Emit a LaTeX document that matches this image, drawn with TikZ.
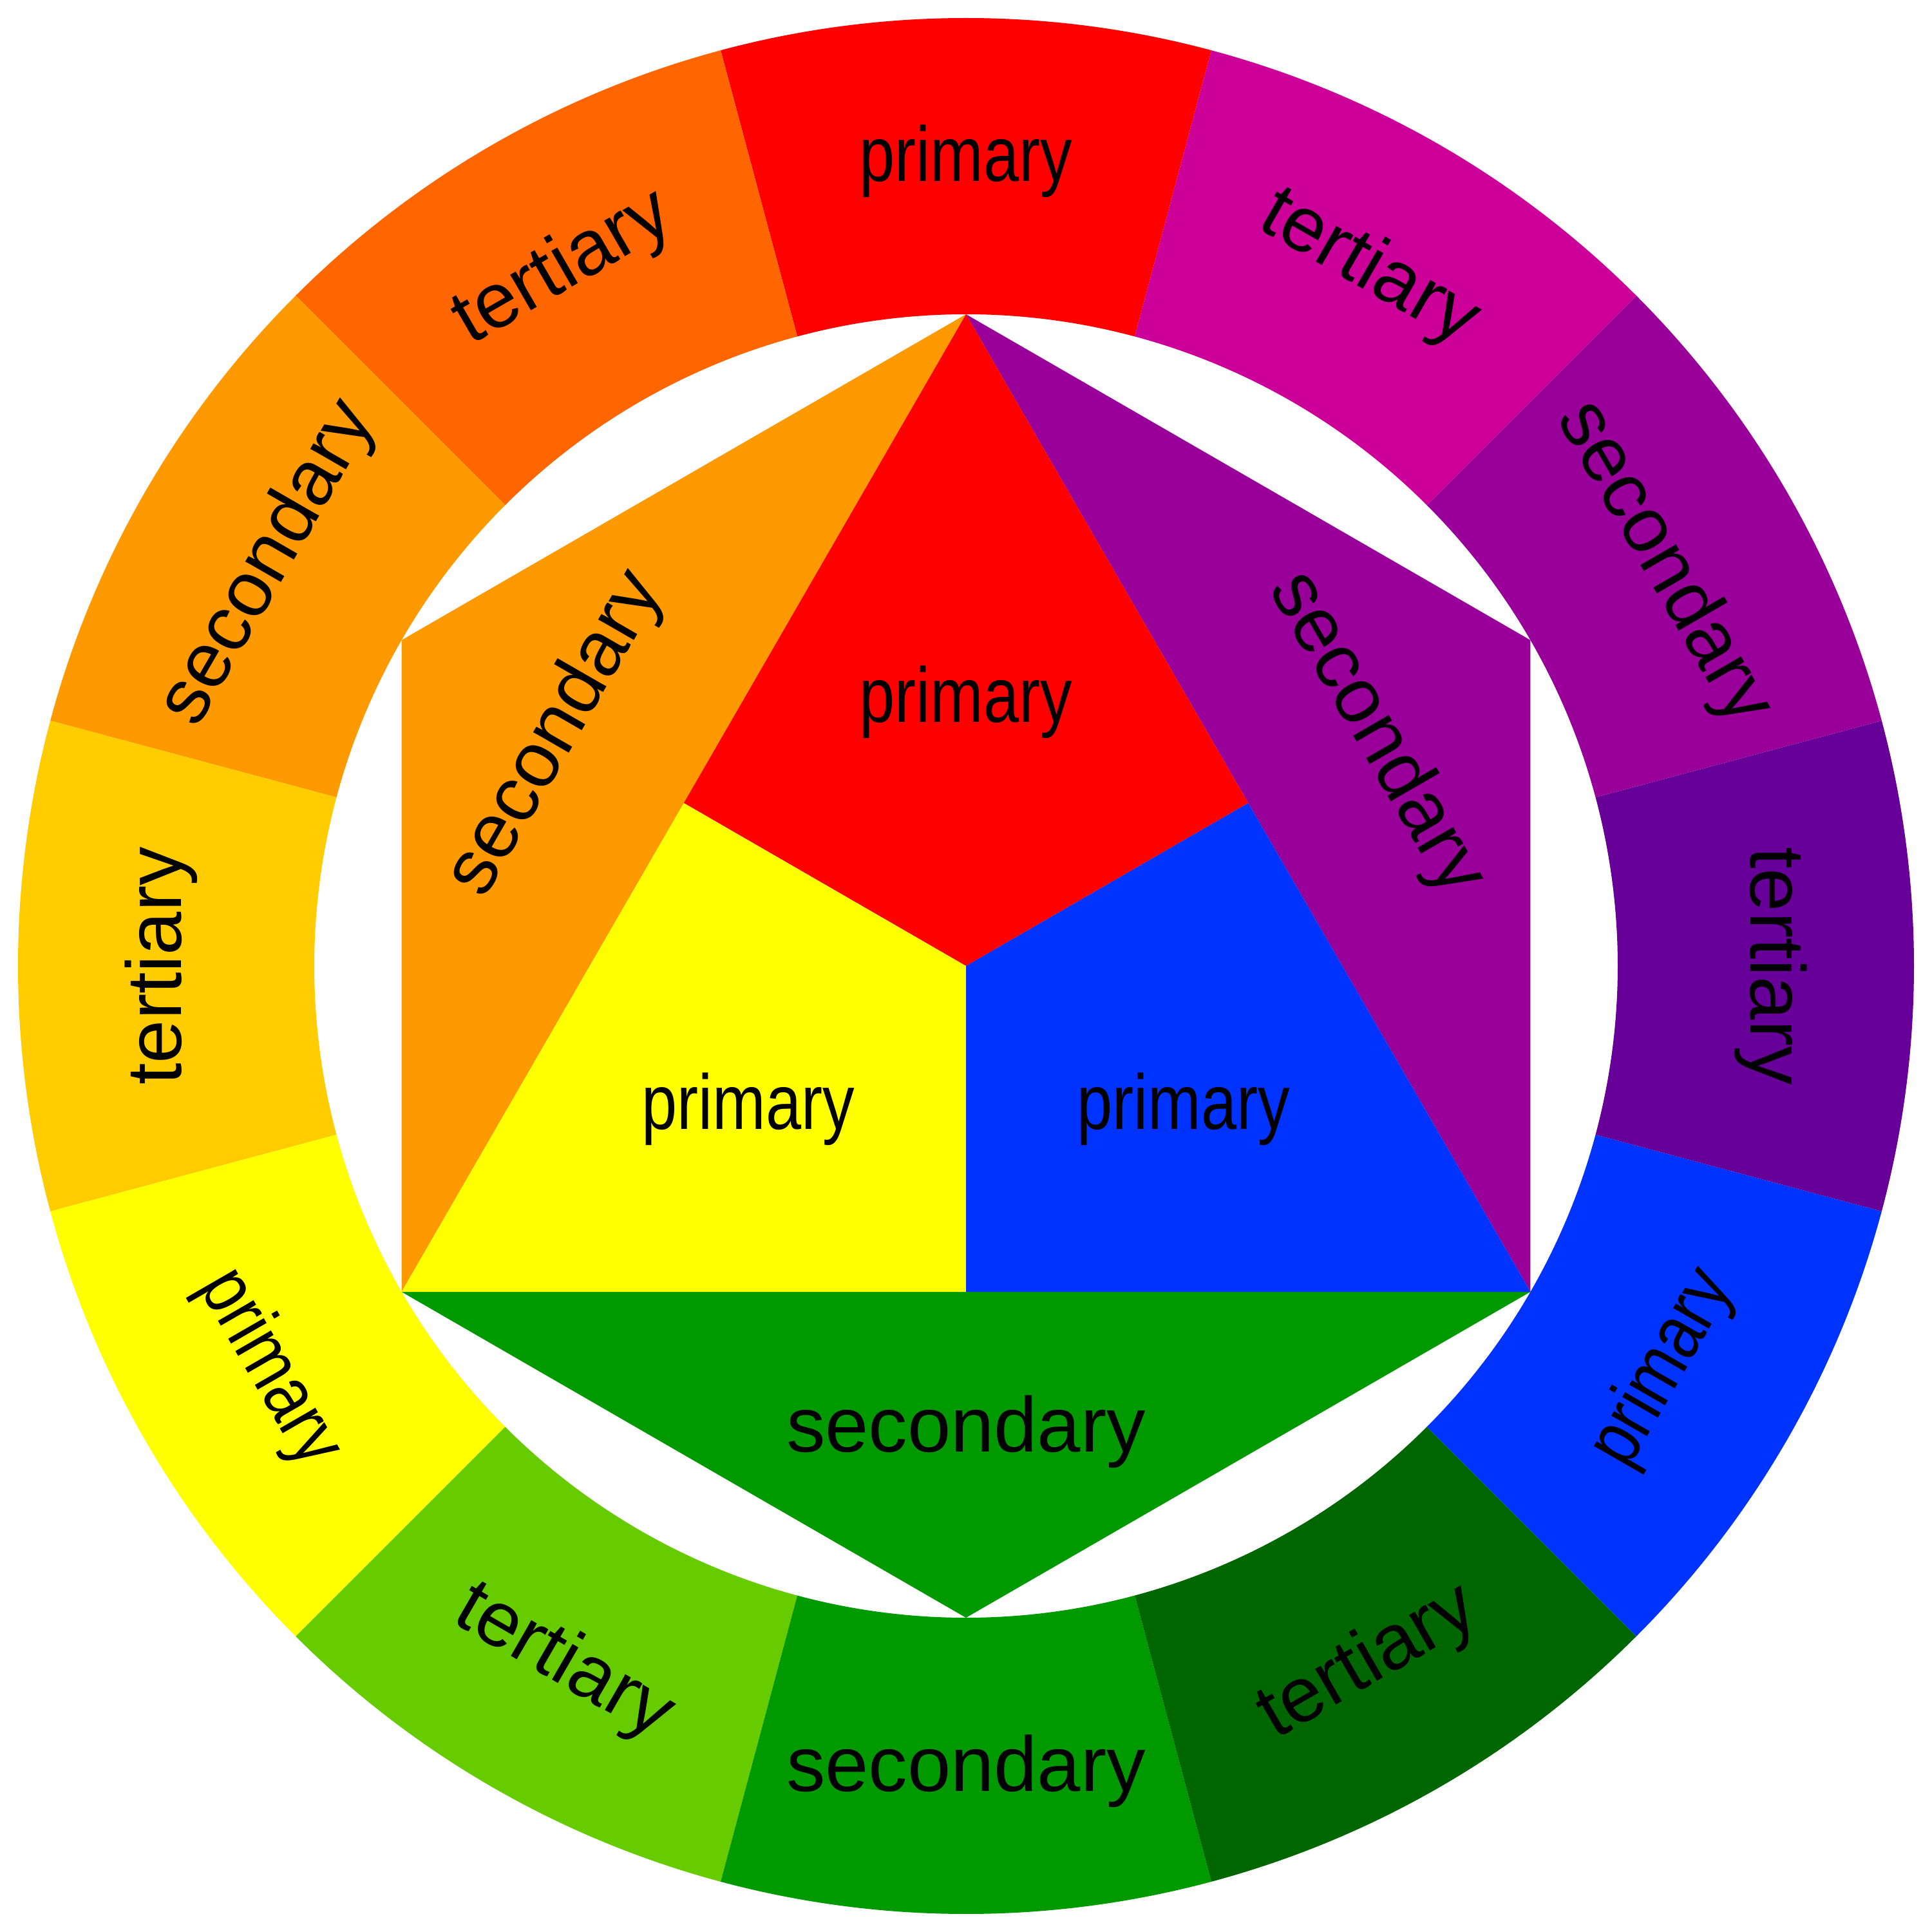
\documentclass[tikz,border=0pt]{standalone}
\usepackage{fontspec}
\setmainfont{Liberation Sans}
\newfontfamily\nrwA[FakeStretch=0.82]{Liberation Sans}
\usetikzlibrary{calc}
\definecolor{cRed}{HTML}{FF0000}
\definecolor{cRedOrange}{HTML}{FF6600}
\definecolor{cOrange}{HTML}{FF9900}
\definecolor{cYellowOrange}{HTML}{FFCC00}
\definecolor{cYellow}{HTML}{FFFF00}
\definecolor{cYellowGreen}{HTML}{66CC00}
\definecolor{cGreen}{HTML}{009900}
\definecolor{cDarkGreen}{HTML}{006600}
\definecolor{cBlue}{HTML}{0033FF}
\definecolor{cViolet}{HTML}{660099}
\definecolor{cPurple}{HTML}{990099}
\definecolor{cMagenta}{HTML}{CC0099}
\tikzset{
  lbl/.style={inner sep=0pt, text=black, font=\fontsize{34.4}{40}\selectfont}
}
\begin{document}
\begin{tikzpicture}
\useasboundingbox (-15,-15) rectangle (15,15);
\def\Ro{14.72}
\def\Ri{10.12}
\def\Rm{12.5}
% outer ring
\foreach \c/\col/\txt/\rot/\fnt [count=\k] in {
  90/cRed/primary/0/\nrwA,
  120/cRedOrange/tertiary/30/\relax,
  150/cOrange/secondary/60/\relax,
  180/cYellowOrange/tertiary/90/\relax,
  210/cYellow/primary/-60/\nrwA,
  240/cYellowGreen/tertiary/-30/\relax,
  270/cGreen/secondary/0/\relax,
  300/cDarkGreen/tertiary/30/\relax,
  330/cBlue/primary/60/\nrwA,
  0/cViolet/tertiary/-90/\relax,
  30/cPurple/secondary/-60/\relax,
  60/cMagenta/tertiary/-30/\relax}{
  \fill[\col] (\c-15:\Ro) arc[start angle=\c-15, end angle=\c+15, radius=\Ro]
     -- (\c+15:\Ri) arc[start angle=\c+15, end angle=\c-15, radius=\Ri] -- cycle;
  \node[lbl, rotate=\rot] (ring\k) at (\c:\Rm) {\fnt\txt};
}
% inner hexagon and triangle
\coordinate (T) at (90:\Ri);
\coordinate (UL) at (150:\Ri);
\coordinate (LL) at (210:\Ri);
\coordinate (B) at (270:\Ri);
\coordinate (LR) at (330:\Ri);
\coordinate (UR) at (30:\Ri);
\coordinate (O) at (0,0);
\coordinate (ML) at ($(T)!0.5!(LL)$);
\coordinate (MR) at ($(T)!0.5!(LR)$);
\coordinate (MB) at ($(LL)!0.5!(LR)$);
\fill[cOrange] (T) -- (UL) -- (LL) -- cycle;
\fill[cPurple] (T) -- (UR) -- (LR) -- cycle;
\fill[cGreen] (LL) -- (B) -- (LR) -- cycle;
\fill[cRed] (T) -- (ML) -- (O) -- (MR) -- cycle;
\fill[cYellow] (ML) -- (LL) -- (MB) -- (O) -- cycle;
\fill[cBlue] (O) -- (MB) -- (LR) -- (MR) -- cycle;
% inner labels
\node[lbl] (pRed) at (0,4.1) {\nrwA primary};
\node[lbl] (pYellow) at (-3.38,-2.22) {\nrwA primary};
\node[lbl] (pBlue) at (3.38,-2.22) {\nrwA primary};
\node[lbl, rotate=60] (sOrange) at (-6.36,3.6) {secondary};
\node[lbl, rotate=-60] (sPurple) at (6.36,3.6) {secondary};
\node[lbl] (sGreen) at (0,-7.23) {secondary};
\end{tikzpicture}
\end{document}
